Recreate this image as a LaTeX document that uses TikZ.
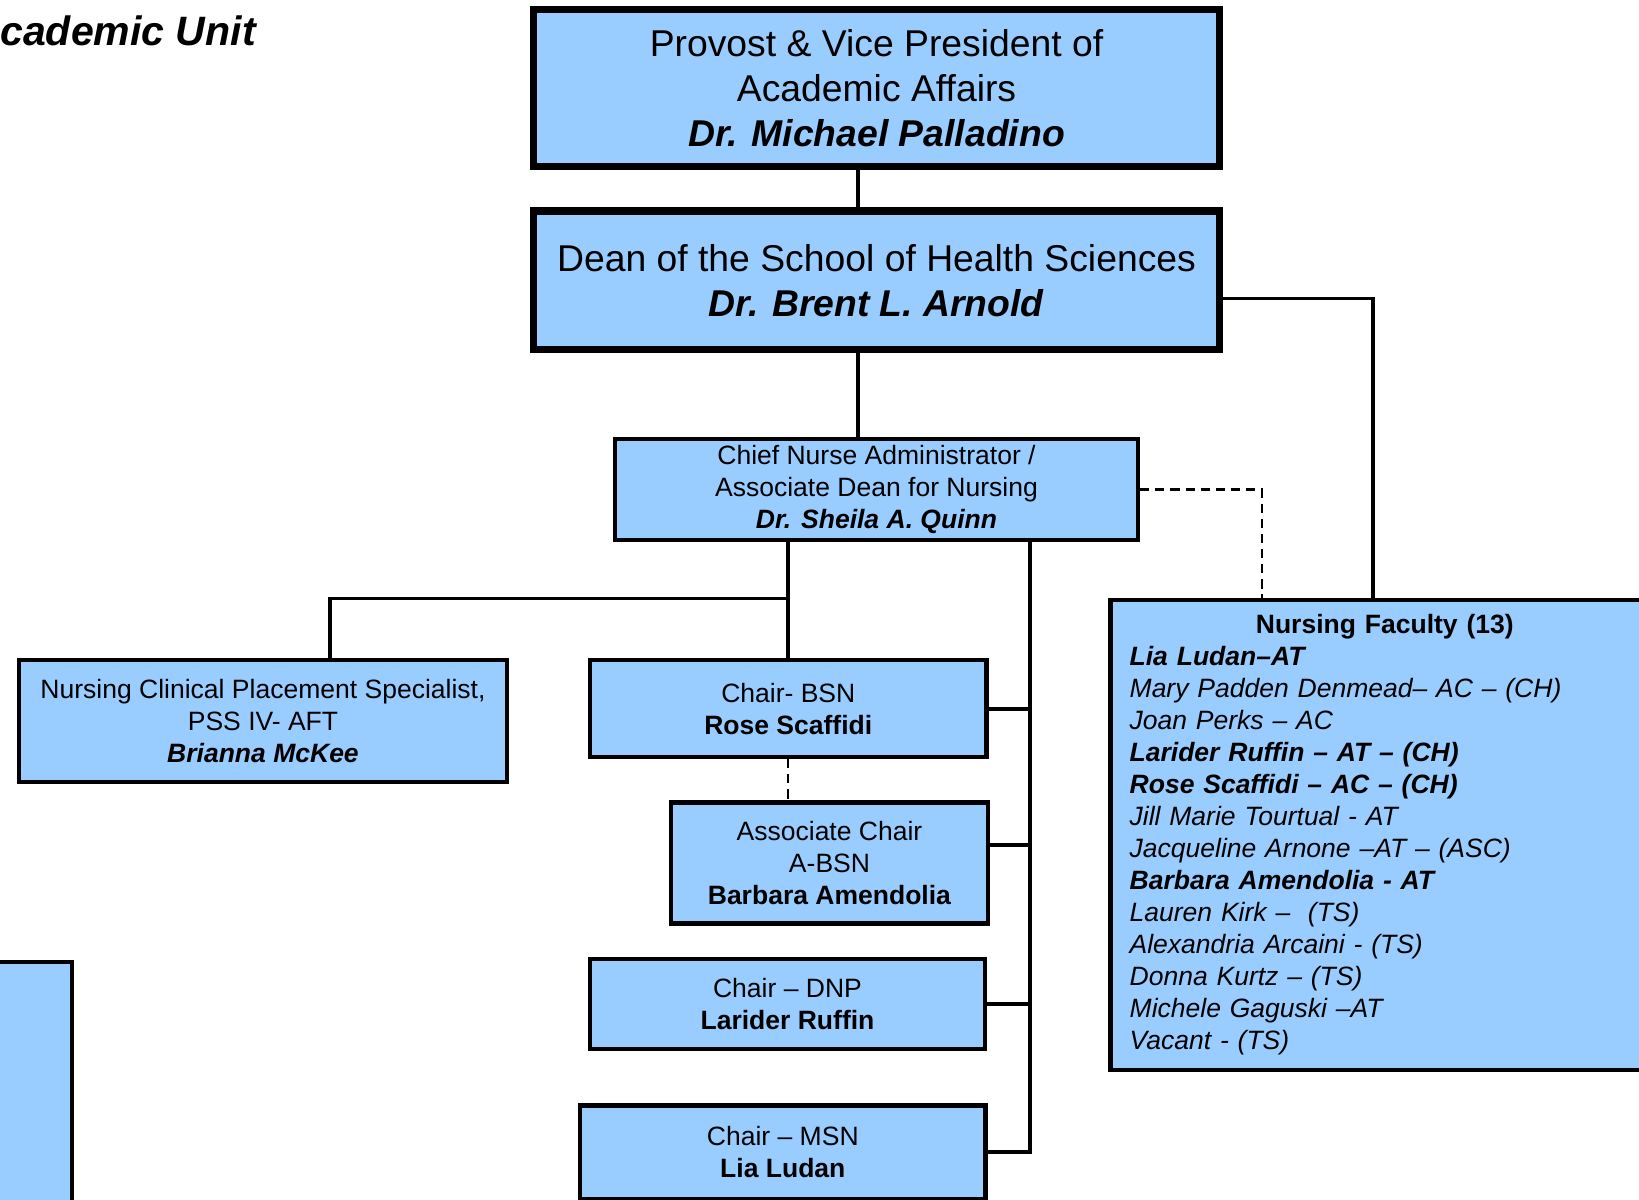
\documentclass[tikz,border=0pt]{standalone}
\usepackage{fontspec}
\setmainfont{Liberation Sans}
\usepackage{tikz}
\usetikzlibrary{calc}
\definecolor{boxblue}{HTML}{99CCFF}
\tikzset{
    bigbox/.style={
        draw,
        rectangle,
        fill=boxblue,
        line width=2.1pt,
        align=center,
        inner sep=0pt,
        font=\fontsize{10.61pt}{12.8pt}\selectfont
    },
    smallbox/.style={
        draw,
        rectangle,
        fill=boxblue,
        line width=1.25pt,
        align=center,
        inner sep=0pt,
        font=\fontsize{7.54pt}{9.1pt}\selectfont
    },
    link/.style={
        line width=1.1pt
    },
    dashlink/.style={
        line width=0.6pt,
        dash pattern=on 2.6pt off 1.7pt
    }
}

\begin{document}
\begin{tikzpicture}[x=0.01cm, y=-0.01cm]
  \useasboundingbox (0,0) rectangle (1639,1200);
  \clip (0,0) rectangle (1639,1200);

  % Heading (cut at the left edge)
  \node[anchor=base east, inner sep=0pt, font=\fontsize{11.67pt}{14pt}\selectfont\bfseries\itshape] (unit) at (256.5,45) {cademic Unit};

  % Top levels
  \node[bigbox, minimum width=6.856cm, minimum height=1.565cm] (prov) at (876.5,88) {Provost \& Vice President of\\ Academic Affairs\\ \textbf{\textit{Dr. Michael Palladino}}};
  \node[bigbox, minimum width=6.856cm, minimum height=1.383cm] (dean) at (876.5,280.2) {Dean of the School of Health Sciences\\ \textbf{\textit{Dr. Brent L. Arnold}}};
  \node[smallbox, minimum width=5.226cm, minimum height=1.006cm] (chief) at (876.5,489.5) {Chief Nurse Administrator /\\ Associate Dean for Nursing\\ \textbf{\textit{Dr. Sheila A. Quinn}}};

  % Staff and chairs
  \node[smallbox, minimum width=4.876cm, minimum height=1.216cm] (place) at (263,721) {Nursing Clinical Placement Specialist,\\ PSS IV- AFT\\ \textbf{\textit{Brianna McKee}}};
  \node[smallbox, minimum width=3.962cm, minimum height=0.968cm] (bsn) at (788.3,708.6) {Chair- BSN\\ \textbf{Rose Scaffidi}};
  \node[smallbox, minimum width=3.166cm, minimum height=1.207cm] (assoc) at (829.5,863) {Associate Chair\\ A-BSN\\ \textbf{Barbara Amendolia}};
  \node[smallbox, minimum width=3.946cm, minimum height=0.896cm] (dnp) at (787.5,1004) {Chair – DNP\\ \textbf{Larider Ruffin}};
  \node[smallbox, minimum width=4.05cm, minimum height=0.941cm] (msn) at (782.8,1152.4) {Chair – MSN\\ \textbf{Lia Ludan}};
  \node[smallbox, minimum width=2.72cm, minimum height=4.38cm] (other) at (-64,1181) {};

  % Faculty list
  \node[smallbox, align=left, text width=5.1cm, minimum width=5.484cm, minimum height=4.697cm] (fac) at (1384.8,834.9) {%
    \hbox to \hsize{\hfil\textbf{Nursing Faculty (13)}\hfil}\\
    \textbf{\textit{Lia Ludan–AT}}\\
    \textit{Mary Padden Denmead– AC – (CH)}\\
    \textit{Joan Perks – AC}\\
    \textbf{\textit{Larider Ruffin – AT – (CH)}}\\
    \textbf{\textit{Rose Scaffidi – AC – (CH)}}\\
    \textit{Jill Marie Tourtual - AT}\\
    \textit{Jacqueline Arnone –AT – (ASC)}\\
    \textbf{\textit{Barbara Amendolia - AT}}\\
    \textit{Lauren Kirk –\ \ (TS)}\\
    \textit{Alexandria Arcaini - (TS)}\\
    \textit{Donna Kurtz – (TS)}\\
    \textit{Michele Gaguski –AT}\\
    \textit{Vacant - (TS)}};

  % Join points
  \coordinate (topstem) at (858,0);
  \coordinate (deanout) at (1373,298.5);
  \coordinate (placestem) at (330,598.5);
  \coordinate (rspine) at (1030,0);
  \coordinate (assocjoin) at (1030,844.6);
  \coordinate (dashbend) at (1262,489.5);

  % Edges
  \draw[link] (prov.south -| topstem) -- (dean.north -| topstem);
  \draw[link] (dean.south -| topstem) -- (chief.north -| topstem);
  \draw[link] (dean.east |- deanout) -| (fac.north -| deanout);
  \draw[link] (chief.south -| bsn.north) -- (bsn.north);
  \draw[link] (bsn.north |- placestem) -- (placestem) -- (place.north -| placestem);
  \draw[link] (chief.south -| rspine) -- (msn.east -| rspine) -- (msn.east);
  \foreach \n in {bsn,dnp}
    \draw[link] (\n.east) -- (\n.east -| rspine);
  \draw[link] (assoc.east |- assocjoin) -- (assocjoin);

  % Dotted-line reports
  \draw[dashlink] (chief.east) -- (dashbend) -- (fac.north -| dashbend);
  \draw[dashlink] (bsn.south) -- (assoc.north -| bsn.south);
\end{tikzpicture}
\end{document}
